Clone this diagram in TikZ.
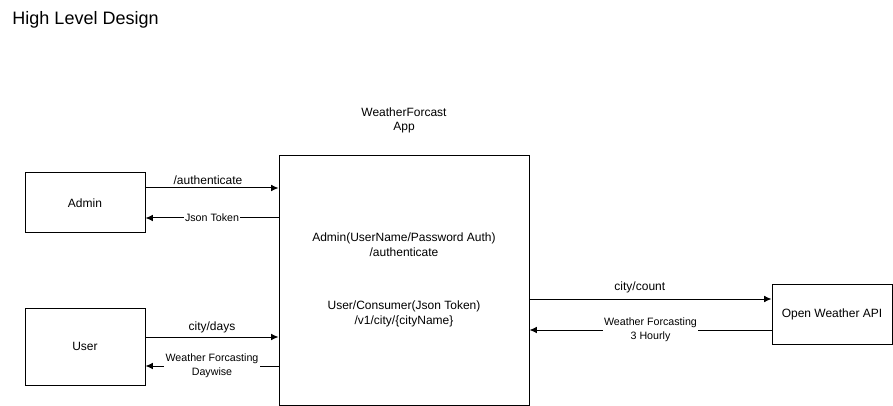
\documentclass[tikz,border=0pt]{standalone}
\usepackage{fontspec}
\setmainfont{Liberation Sans}
\usetikzlibrary{arrows.meta}
\tikzset{
>={Latex[width=5pt,length=5.5pt]},
	box1/.style={
		rectangle,
		sharp corners,
		fill=white,
		draw=black, line width=0.75pt,
		minimum width=90pt,
		minimum height=45pt,
		inner sep=0pt,
		font=\fontsize{9}{11}\selectfont,
		align=center},
	box2/.style={
		rectangle,
		sharp corners,
		draw=black, line width=0.75pt,
		minimum width=187.5pt,
		minimum height=187pt,
		inner sep=0pt},
	lbl/.style={
		font=\fontsize{9}{11}\selectfont,
		align=center,
		inner sep=1pt},
	lblsmall/.style={
		font=\fontsize{8}{10.5}\selectfont,
		align=center,
		fill=white,
		inner sep=1pt}
}

\begin{document}
\begin{tikzpicture}
[x=0.75pt, y=-0.75pt, line width=0.75pt]
\useasboundingbox (0,0) rectangle (893,406);
\node[anchor=west, inner sep=0pt, font=\fontsize{13.5}{16}\selectfont] (title) at (12,20) {High Level Design};
\node[box1] (admin) at (85,203) {Admin};
\node[box1, minimum height=57.75pt] (user) at (85,346.5) {User};
\node[box2] (app) at (404,280.5) {};
\node[lbl] (apptitle) at (404,120.5) {WeatherForcast\\App};
\node[lbl] (appadmin) at (404,244.5) {Admin(UserName/Password Auth)\\/authenticate};
\node[lbl] (appuser) at (404,314) {User/Consumer(Json Token)\\/v1/city/\{cityName\}};
\node[box1] (owa) at (832,314.5) {Open Weather API};
\draw[->] (admin.east |- 0,188) -- node[lbl, above=1.5pt, xshift=-3pt]{/authenticate} (app.west |- 0,188);
\draw[->] (app.west |- 0,218) -- node[lblsmall]{Json Token} (admin.east |- 0,218);
\draw[->] (user.east |- 0,337) -- node[lbl, above=1.5pt]{city/days} (app.west |- 0,337);
\draw[->] (app.west |- 0,366) -- node[lblsmall]{Weather Forcasting\\Daywise} (user.east |- 0,366);
\draw[->] (app.east |- 0,299) -- node[lbl, above=3pt, xshift=-8pt]{city/count} (owa.west |- 0,299);
\draw[->] (owa.west |- 0,330) -- node[lblsmall]{Weather Forcasting\\3 Hourly} (app.east |- 0,330);
\end{tikzpicture}
\end{document}
